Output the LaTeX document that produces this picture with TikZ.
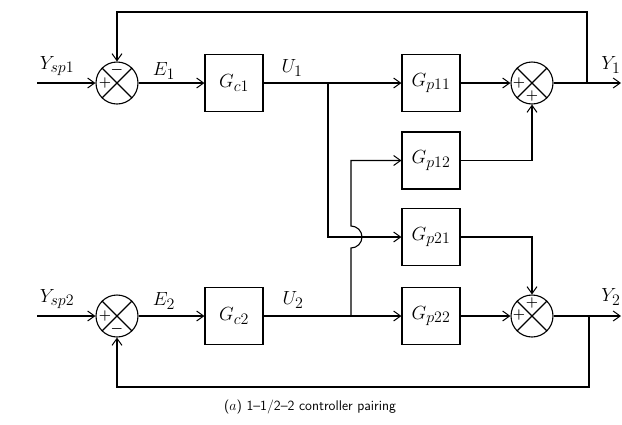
\documentclass[tikz,border=0pt]{standalone}
\usepackage{fix-cm}
\DeclareMathSizes{19}{19}{16}{12}
\usetikzlibrary{arrows.meta,calc}
\begin{document}
\begin{tikzpicture}[x=1pt,y=-1pt,line width=1.1pt,
  blk/.style={draw, minimum width=58pt, minimum height=57pt, inner sep=0pt, font=\fontsize{19}{23}\selectfont},
  sumc/.style={draw, circle, minimum size=42pt, inner sep=0pt},
  sig/.style={-{Straight Barb[length=7pt,width=10pt,line width=1pt]}},
  lbl/.style={font=\fontsize{19}{23}\selectfont, inner sep=0pt},
  sgn/.style={font=\fontsize{14}{16}\selectfont\boldmath, inner sep=0pt}]
\useasboundingbox (0,0) rectangle (622,424);
% blocks
\node[sumc] (s1) at (117,83) {};
\node[sumc] (s2) at (117,316) {};
\node[sumc] (s3) at (532,83) {};
\node[sumc] (s4) at (532,316) {};
\foreach \s in {s1,s2,s3,s4}{
  \draw (\s.north east) -- (\s.south west);
  \draw (\s.north west) -- (\s.south east);
}
\node[blk] (Gc1) at (234,83) {$G_{c1}$};
\node[blk] (Gc2) at (234,316) {$G_{c2}$};
\node[blk] (Gp11) at (431,83) {$G_{p11}$};
\node[blk] (Gp12) at (431,160.5) {$G_{p12}$};
\node[blk] (Gp21) at (431,237) {$G_{p21}$};
\node[blk] (Gp22) at (431,316) {$G_{p22}$};
% signs
\node[sgn] (p1a) at ($(s1)+(-12,0)$) {$+$};
\node[sgn] (m1a) at ($(s1)+(0,-13)$) {$-$};
\node[sgn] (p2a) at ($(s2)+(-12,0)$) {$+$};
\node[sgn] (m2a) at ($(s2)+(0,13)$) {$-$};
\node[sgn] (p3a) at ($(s3)+(-13,0)$) {$+$};
\node[sgn] (p3b) at ($(s3)+(0,13)$) {$+$};
\node[sgn] (p4a) at ($(s4)+(-13,-1)$) {$+$};
\node[sgn] (p4b) at ($(s4)+(0,-13)$) {$+$};
% coordinates
\coordinate (in1) at (37,83);
\coordinate (in2) at (37,316);
\coordinate (b1) at (328,83);
\coordinate (b2) at (351,316);
\coordinate (f1) at (587,83);
\coordinate (f2) at (589,316);
\coordinate (out1) at (621,83);
\coordinate (out2) at (621,316);
% connectors
\draw[sig] (in1) -- (s1.west);
\draw[sig] (s1.east) -- (Gc1.west);
\draw (Gc1.east) -- (b1);
\draw[sig] (b1) -- (Gp11.west);
\draw[sig] (Gp11.east) -- (s3.west);
\draw[sig] (s3.east) -- (out1);
\draw[sig] (f1) -- ++(0,-71) -| (s1.north);
\draw[sig] (b1) |- (Gp21.west);
\draw[sig] (in2) -- (s2.west);
\draw[sig] (s2.east) -- (Gc2.west);
\draw (Gc2.east) -- (b2);
\draw[sig] (b2) -- (Gp22.west);
\draw[sig] (b2) -- (351,248) arc[start angle=90,end angle=-90,radius=11] |- (Gp12.west);
\draw[sig] (Gp12.east) -| (s3.south);
\draw[sig] (Gp21.east) -| (s4.north);
\draw[sig] (Gp22.east) -- (s4.west);
\draw[sig] (s4.east) -- (out2);
\draw[sig] (f2) -- ++(0,71) -| (s2.south);
% labels
\node[lbl] (lYsp1) at (57,66) {$Y_{sp1}$};
\node[lbl] (lE1) at (164,71) {$E_1$};
\node[lbl] (lU1) at (292,68) {$U_1$};
\node[lbl] (lY1) at (611,65) {$Y_1$};
\node[lbl] (lYsp2) at (57,299) {$Y_{sp2}$};
\node[lbl] (lE2) at (164,301) {$E_2$};
\node[lbl] (lU2) at (293,300) {$U_2$};
\node[lbl] (lY2) at (611,297) {$Y_2$};
\node[font=\fontsize{14}{16}\selectfont\sffamily, inner sep=0pt] (cap) at (310,407) {($a$) 1--1/2--2 controller pairing};
\end{tikzpicture}
\end{document}
